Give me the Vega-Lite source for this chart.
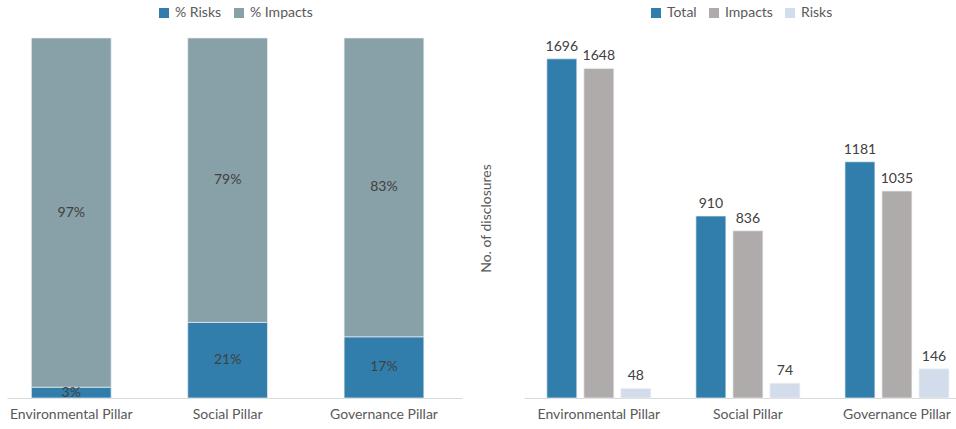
{
  "$schema": "https://vega.github.io/schema/vega-lite/v6.json",
  "background": "white",
  "padding": {"left": 7, "top": 6, "right": 0, "bottom": 0},
  "spacing": 17,
  "config": {
    "view": {"stroke": null},
    "font": "Lato",
    "axis": {"labelFontSize": 14, "labelColor": "#595959", "domainColor": "#d9d9d9", "ticks": false, "grid": false, "labelPadding": 9, "titleFontWeight": "normal", "titleFontSize": 14, "titleColor": "#595959"},
    "legend": {"orient": "top", "direction": "horizontal", "title": null, "symbolType": "square", "symbolSize": 100, "symbolStrokeWidth": 0, "labelFontSize": 14, "labelColor": "#595959", "columnPadding": 10, "labelOffset": 4, "offset": 18, "layout": {"top": {"anchor": "middle"}}}
  },
  "resolve": {"scale": {"color": "independent"}, "legend": {"color": "independent"}},
  "hconcat": [
    {
      "width": 455,
      "height": 360,
      "data": {"values": [
        {"pillar": "Environmental Pillar", "type": "% Risks", "pct": 3},
        {"pillar": "Environmental Pillar", "type": "% Impacts", "pct": 97},
        {"pillar": "Social Pillar", "type": "% Risks", "pct": 21},
        {"pillar": "Social Pillar", "type": "% Impacts", "pct": 79},
        {"pillar": "Governance Pillar", "type": "% Risks", "pct": 17},
        {"pillar": "Governance Pillar", "type": "% Impacts", "pct": 83}
      ]},
      "transform": [
        {"calculate": "datum.type === '% Risks' ? 0 : 1", "as": "ord"},
        {"stack": "pct", "groupby": ["pillar"], "sort": [{"field": "ord"}], "as": ["y0", "y1"]},
        {"calculate": "(datum.y0 + datum.y1) / 2", "as": "ymid"},
        {"calculate": "datum.pct + '%'", "as": "label"}
      ],
      "encoding": {
        "x": {"field": "pillar", "type": "nominal", "sort": null, "scale": {"paddingInner": 0.49, "paddingOuter": 0.2, "align": 0.39}, "axis": {"title": null, "labelAngle": 0}}
      },
      "layer": [
        {
          "mark": {"type": "bar", "stroke": "#e6edf1", "strokeWidth": 0.7},
          "encoding": {
            "y": {"field": "y1", "type": "quantitative", "scale": {"domain": [0, 100]}, "axis": null},
            "y2": {"field": "y0"},
            "color": {"field": "type", "type": "nominal", "scale": {"domain": ["% Risks", "% Impacts"], "range": ["#317eac", "#88a0a7"]}}
          }
        },
        {
          "mark": {"type": "text", "fontSize": 14, "color": "#404040"},
          "encoding": {
            "y": {"field": "ymid", "type": "quantitative"},
            "text": {"field": "label"}
          }
        }
      ]
    },
    {
      "width": 433,
      "height": 360,
      "data": {"values": [
        {"pillar": "Environmental Pillar", "series": "Total", "n": 1696},
        {"pillar": "Environmental Pillar", "series": "Impacts", "n": 1648},
        {"pillar": "Environmental Pillar", "series": "Risks", "n": 48},
        {"pillar": "Social Pillar", "series": "Total", "n": 910},
        {"pillar": "Social Pillar", "series": "Impacts", "n": 836},
        {"pillar": "Social Pillar", "series": "Risks", "n": 74},
        {"pillar": "Governance Pillar", "series": "Total", "n": 1181},
        {"pillar": "Governance Pillar", "series": "Impacts", "n": 1035},
        {"pillar": "Governance Pillar", "series": "Risks", "n": 146}
      ]},
      "encoding": {
        "x": {"field": "pillar", "type": "nominal", "sort": null, "scale": {"paddingInner": 0.255, "paddingOuter": 0.08, "align": 0.81}, "axis": {"title": null, "labelAngle": 0}},
        "xOffset": {"field": "series", "type": "nominal", "sort": ["Total", "Impacts", "Risks"], "scale": {"paddingInner": 0.19, "paddingOuter": 0.095}},
        "y": {"field": "n", "type": "quantitative", "scale": {"domain": [0, 1800]}, "axis": {"title": "No. of disclosures", "labels": false, "domain": false, "ticks": false, "grid": false, "titlePadding": 31}}
      },
      "layer": [
        {
          "mark": {"type": "bar", "stroke": "#eef1f5", "strokeWidth": 0.7},
          "encoding": {
            "color": {"field": "series", "type": "nominal", "sort": ["Total", "Impacts", "Risks"], "scale": {"domain": ["Total", "Impacts", "Risks"], "range": ["#317eac", "#b0abab", "#d3dcea"]}}
          }
        },
        {
          "mark": {"type": "text", "fontSize": 14, "color": "#404040", "baseline": "bottom", "dy": -5},
          "encoding": {"text": {"field": "n", "type": "quantitative"}}
        }
      ]
    }
  ]
}
